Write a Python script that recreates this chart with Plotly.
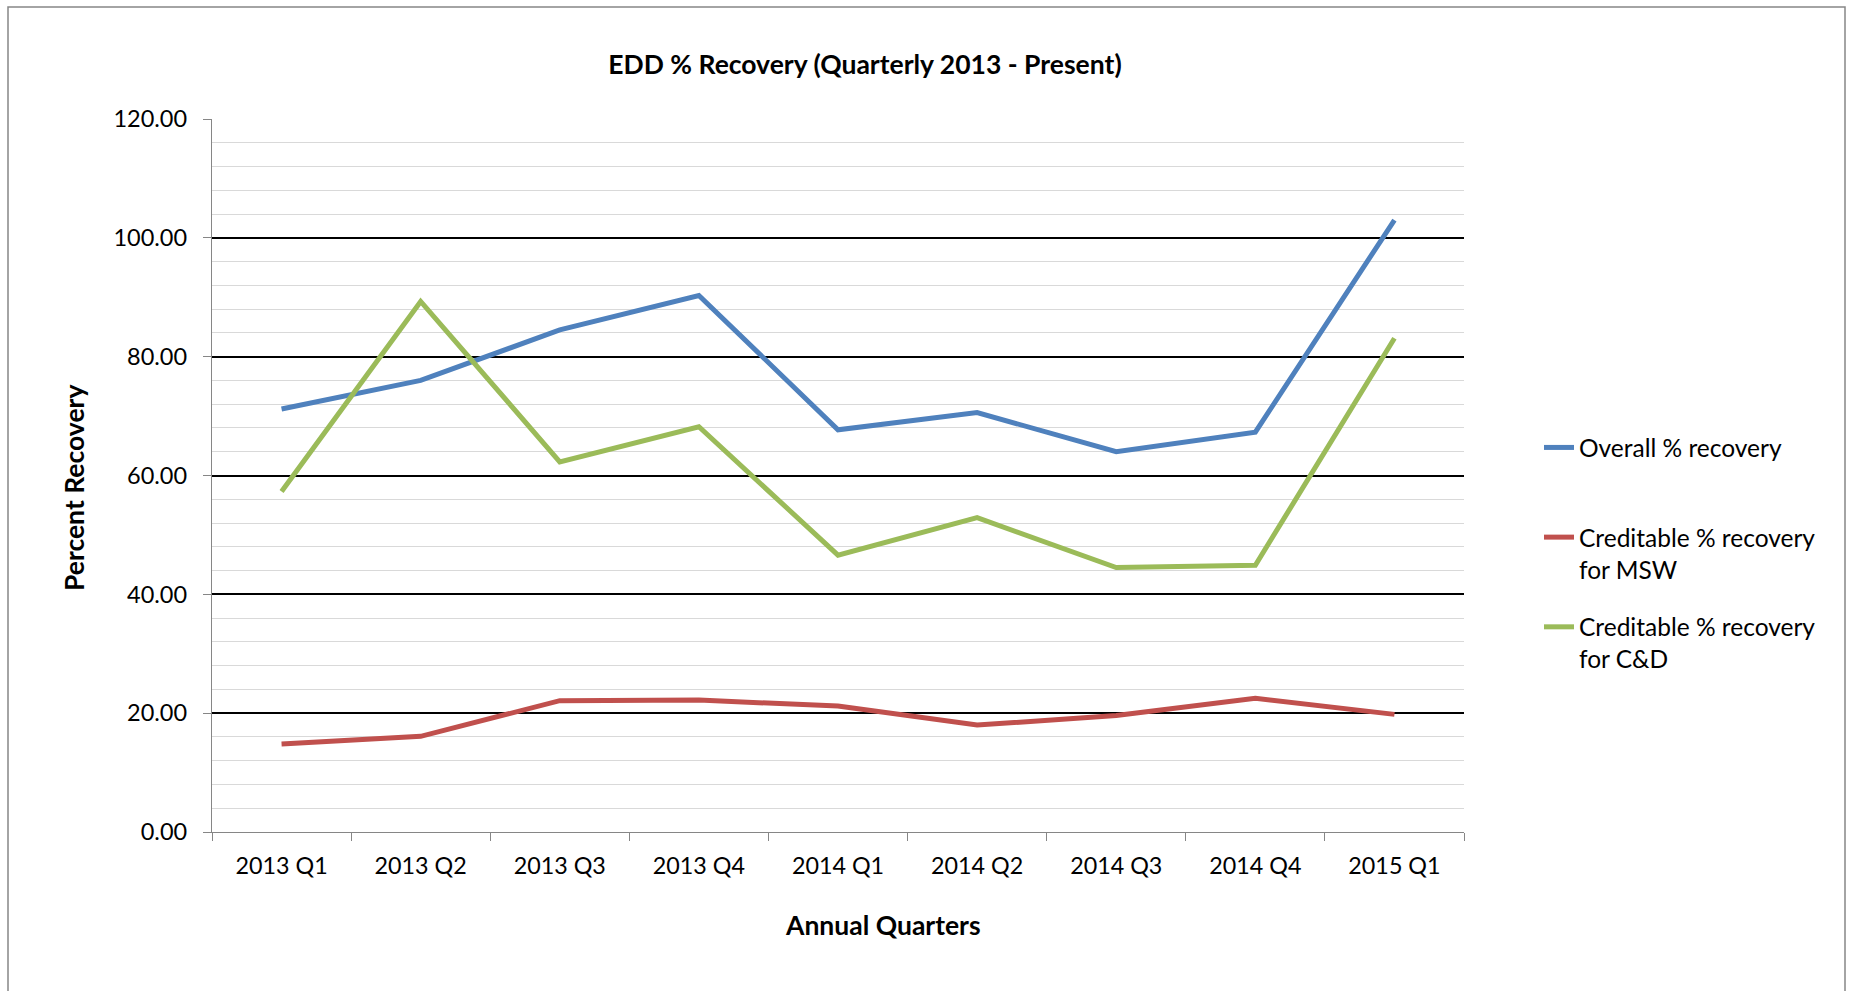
import plotly.graph_objects as go

quarters = ["2013 Q1", "2013 Q2", "2013 Q3", "2013 Q4", "2014 Q1",
            "2014 Q2", "2014 Q3", "2014 Q4", "2015 Q1"]
overall = [71.2, 76.0, 84.5, 90.3, 67.7, 70.6, 64.0, 67.3, 103.0]
msw = [14.8, 16.1, 22.1, 22.2, 21.2, 18.0, 19.6, 22.5, 19.8]
cnd = [57.3, 89.3, 62.3, 68.2, 46.6, 52.9, 44.5, 44.9, 83.1]

series_names = ["Overall % recovery\u00a0<br>\u00a0",
                "Creditable % recovery<br>for MSW",
                "Creditable % recovery<br>for C&D"]
series_colors = ["#4F81BD", "#C0504D", "#9BBB59"]

FONT = "Lato"
fig = go.Figure()
for i, (name, vals, col) in enumerate(zip(series_names, [overall, msw, cnd], series_colors)):
    fig.add_trace(go.Scatter(x=quarters, y=vals, mode="lines", name=name,
                             legendgroup=f"g{i}",
                             line=dict(color=col, width=5)))

L, R, T, B = 212, 1464, 119, 832
W, H = 1851, 991

def px(x):
    return (x - L) / (R - L)

def py(y):
    return (B - y) / (B - T)

fig.update_layout(
    width=W, height=H,
    margin=dict(l=L, r=W - R, t=T, b=H - B, autoexpand=False),
    paper_bgcolor="white", plot_bgcolor="white",
    font=dict(family=FONT, size=23.3, color="black"),
    title=dict(text="<b>EDD % Recovery (Quarterly 2013 - Present)</b>",
               xref="container", x=865 / W, xanchor="center",
               yref="container", y=1 - 65 / H, yanchor="middle",
               font=dict(size=26.5, family=FONT)),
    showlegend=True,
    legend=dict(x=px(1539), xanchor="left", y=py(425), yanchor="top",
                valign="top", tracegroupgap=23, font=dict(size=24.5, family=FONT),
                bgcolor="rgba(0,0,0,0)"),
    shapes=[dict(type="rect", xref="paper", yref="paper",
                 x0=px(8), x1=px(1845), y0=py(1000), y1=py(7),
                 line=dict(color="#868686", width=1.5), layer="above")],
    annotations=[
        dict(text="<b>Annual Quarters</b>", xref="paper", yref="paper",
             x=px(883), y=py(925), xanchor="center", yanchor="middle",
             showarrow=False, font=dict(size=26.5, family=FONT)),
        dict(text="<b>Percent Recovery</b>", xref="paper", yref="paper",
             x=px(74), y=py(488), xanchor="center", yanchor="middle",
             textangle=-90, showarrow=False, font=dict(size=26.5, family=FONT)),
    ],
)

fig.update_xaxes(
    type="category", categoryorder="array", categoryarray=quarters,
    range=[-0.5, 8.5], tickson="boundaries", ticks="outside", ticklen=8,
    tickcolor="#868686", tickwidth=1.3, ticklabelstandoff=13,
    showline=True, linecolor="#868686", linewidth=1.3,
    showgrid=False, zeroline=False,
    tickfont=dict(size=23.3, family=FONT),
)
fig.update_yaxes(
    range=[0, 120], dtick=20, tick0=0, tickformat=".2f",
    ticks="outside", ticklen=8, tickcolor="#868686", tickwidth=1.3,
    ticklabelstandoff=11,
    showline=True, linecolor="#868686", linewidth=1.3,
    showgrid=True, gridcolor="#000000", gridwidth=1.5,
    minor=dict(dtick=4, tick0=0, showgrid=True, gridcolor="#D9D9D9", gridwidth=1.4),
    zeroline=False,
    tickfont=dict(size=23.5, family=FONT),
)

fig.write_html("out.html", config={"displayModeBar": False},
               post_script="document.body.style.margin='0';"
                           "document.body.style.overflow='hidden';")
